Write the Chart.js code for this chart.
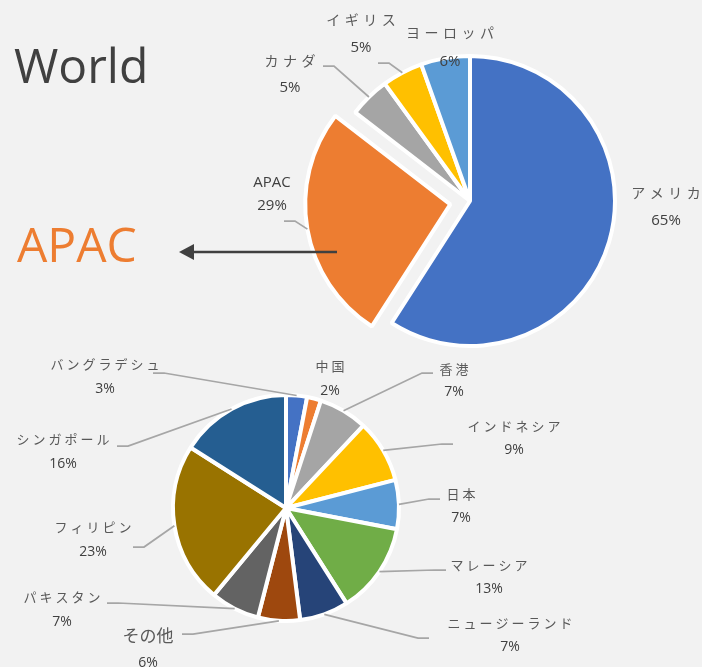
<!DOCTYPE html>
<html lang="ja">
<head>
<meta charset="utf-8">
<title>World / APAC</title>
<script src="https://cdn.jsdelivr.net/npm/chart.js@4.4.1/dist/chart.umd.min.js"></script>
<style>
  html, body { margin: 0; padding: 0; background: #f2f2f2; }
  #wrap { position: relative; width: 702px; height: 667px; overflow: hidden; }
  canvas { position: absolute; left: 0; top: 0; }
  .big { position: absolute; font-family: "Open Sans", sans-serif; font-size: 48px; line-height: 48px; white-space: nowrap; }
  #worldTitle { left: 14px; top: 41px; color: #404040; }
  #apacTitle { left: 17px; top: 220px; color: #ed7d31; }
</style>
</head>
<body>
<div id="wrap">
  <canvas id="worldChart" width="702" height="667"></canvas>
  <canvas id="apacChart" width="702" height="667"></canvas>
  <div class="big" id="worldTitle">World</div>
  <div class="big" id="apacTitle">APAC</div>
</div>
<script>
// 地域別の割合
const worldLabels = ['アメリカ', 'APAC', 'カナダ', 'イギリス', 'ヨーロッパ'];
const worldValues = [65, 29, 5, 5, 6];
const worldColors = ['#4472c4', '#ed7d31', '#a5a5a5', '#ffc000', '#5b9bd5'];

// APAC 内訳
const apacLabels = ['バングラデシュ', '中国', '香港', 'インドネシア', '日本', 'マレーシア',
    'ニュージーランド', 'その他', 'パキスタン', 'フィリピン', 'シンガポール'];
const apacValues = [3, 2, 7, 9, 7, 13, 7, 6, 7, 23, 16];
const apacColors = ['#4472c4', '#ed7d31', '#a5a5a5', '#ffc000', '#5b9bd5', '#70ad47',
    '#264478', '#9e480e', '#636363', '#997300', '#255e91'];

// ラベル配置 [名前x, 名前y, %のy, 引出線x, 引出線y]
const worldLabelPos = [
    [666, 193, 221, null, null],
    [272, 183, 206, 284, 221],
    [290, 61, 88, 323, 66],
    [361, 20, 48, 378, 63],
    [450, 33, 62, null, null]
];
const apacLabelPos = [
    [105, 364, 389, 153, 373],
    [330, 366, 391, null, null],
    [454, 369, 392, 433, 373],
    [514, 426, 450, 453, 444],
    [461, 494, 518, 440, 499],
    [489, 565, 589, 446, 570],
    [510, 623, 647, 429, 638],
    [148, 636, 663, 182, 634],
    [62, 597, 622, 107, 603],
    [93, 527, 552, 133, 547],
    [63, 439, 464, 117, 446]
];

/**
 * 外側ラベルと引出線を描く
 */
const sliceLabels = {
    id: 'sliceLabels',
    afterDatasetsDraw(chart, args, opts) {
        const ctx = chart.ctx;
        const meta = chart.getDatasetMeta(0);
        const ds = chart.data.datasets[0];
        ctx.save();
        meta.data.forEach((arc, i) => {
            const p = opts.positions[i];
            const a = arc.getProps(['x', 'y', 'startAngle', 'endAngle', 'outerRadius'], true);
            const mid = (a.startAngle + a.endAngle) / 2;
            const shift = (Array.isArray(ds.offset) ? ds.offset[i] : 0) / 4;
            const r = a.outerRadius + shift;
            const ex = a.x + Math.cos(mid) * r;
            const ey = a.y + Math.sin(mid) * r;

            // 引出線
            if (p[3] !== null) {
                const dir = p[3] < a.x ? 1 : -1;
                ctx.strokeStyle = '#a6a6a6';
                ctx.lineWidth = 1.75;
                ctx.beginPath();
                ctx.moveTo(p[3], p[4]);
                ctx.lineTo(p[3] + dir * 11, p[4]);
                ctx.lineTo(ex, ey);
                ctx.stroke();
            }

            // 名前（かなのみ字間をあける）
            const label = chart.data.labels[i];
            const big = opts.bigLabels && opts.bigLabels.includes(label);
            const latin = /^[\x00-\x7f]+$/.test(label);
            const ls = big || latin ? 0 : opts.spacing;
            ctx.letterSpacing = ls + 'px';
            ctx.font = latin ? opts.pctSize + 'px "Open Sans"'
                : (big ? opts.bigSize : opts.nameSize) + 'px "Noto Sans CJK JP"';
            ctx.fillStyle = latin ? '#404040' : '#595959';
            ctx.textAlign = 'center';
            ctx.textBaseline = 'middle';
            ctx.fillText(label, p[0] + ls / 2, p[1]);

            // 値
            ctx.letterSpacing = '0px';
            ctx.font = opts.pctSize + 'px "Open Sans"';
            ctx.fillStyle = '#404040';
            ctx.fillText(ds.data[i] + '%', p[0], p[2]);
        });
        ctx.restore();
    }
};

/**
 * APAC への矢印
 */
const arrowPlugin = {
    id: 'apacArrow',
    afterDraw(chart, args, opts) {
        if (!opts.from) return;
        const ctx = chart.ctx;
        const [x1, y] = opts.from;
        const tip = opts.tip;
        ctx.save();
        ctx.strokeStyle = '#404040';
        ctx.fillStyle = '#404040';
        ctx.lineWidth = 2.5;
        ctx.beginPath();
        ctx.moveTo(x1, y);
        ctx.lineTo(tip + 12, y);
        ctx.stroke();
        ctx.beginPath();
        ctx.moveTo(tip, y);
        ctx.lineTo(tip + 15, y - 8);
        ctx.lineTo(tip + 15, y + 8);
        ctx.closePath();
        ctx.fill();
        ctx.restore();
    }
};

function makePie(id, labels, values, colors, radius, padding, borderWidth, offsets, labelOpts, arrowOpts) {
    const ctx = document.getElementById(id).getContext('2d');
    return new Chart(ctx, {
        type: 'pie',
        data: {
            labels: labels,
            datasets: [{
                data: values,
                backgroundColor: colors,
                borderColor: '#ffffff',
                borderWidth: borderWidth,
                offset: offsets
            }]
        },
        options: {
            responsive: false,
            animation: false,
            devicePixelRatio: 1,
            radius: radius,
            layout: { padding: padding },
            plugins: {
                legend: { display: false },
                tooltip: { enabled: false },
                sliceLabels: labelOpts,
                apacArrow: arrowOpts
            }
        },
        plugins: [sliceLabels, arrowPlugin]
    });
}

makePie('worldChart', worldLabels, worldValues, worldColors, 145,
    { left: 238, right: 0, top: 0, bottom: 265 }, 4,
    worldLabels.map(l => l === 'APAC' ? 80 : 0),
    { positions: worldLabelPos, nameSize: 14, pctSize: 15, spacing: 4.5 },
    { from: [337, 252], tip: 179 });

makePie('apacChart', apacLabels, apacValues, apacColors, 113,
    { left: 0, right: 130, top: 349, bottom: 0 }, 4,
    apacLabels.map(() => 0),
    { positions: apacLabelPos, nameSize: 13, pctSize: 14, spacing: 3, bigLabels: ['その他'], bigSize: 17 },
    {});
</script>
</body>
</html>
